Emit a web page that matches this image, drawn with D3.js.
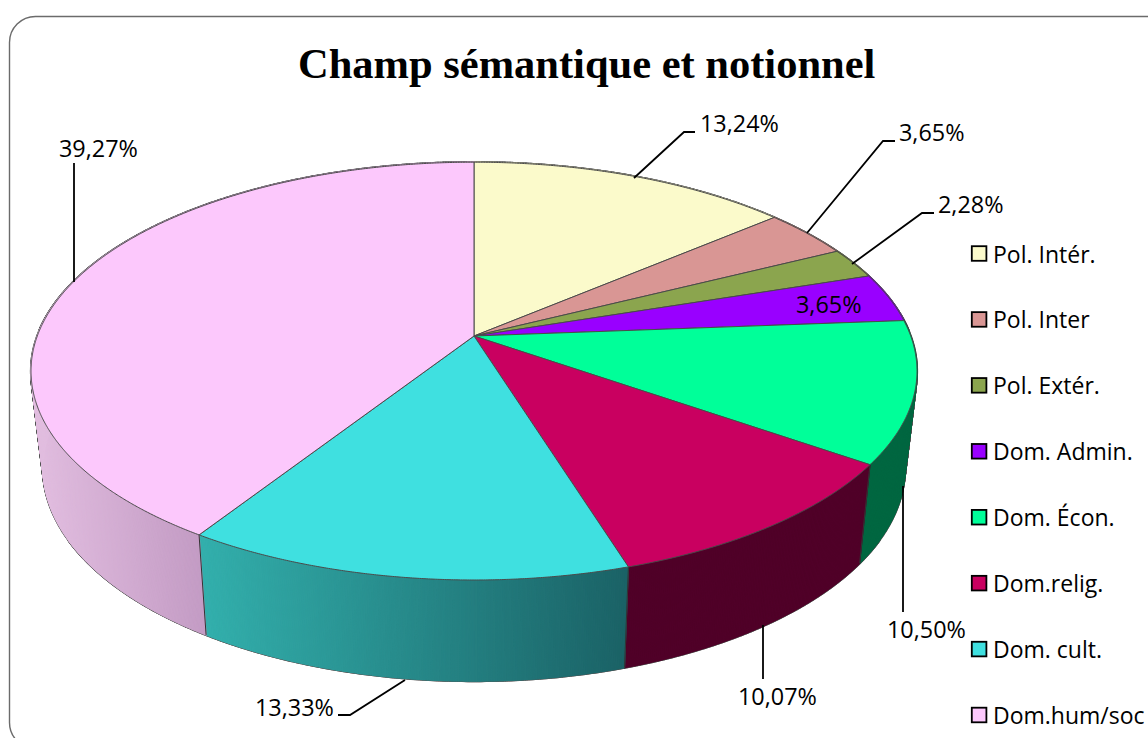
<!DOCTYPE html>
<html><head><meta charset="utf-8">
<script src="https://cdn.jsdelivr.net/npm/d3@7/dist/d3.min.js"></script>
<style>html,body{margin:0;padding:0;background:#fff;overflow:hidden}svg{display:block}</style>
</head><body><svg id="c" width="1148" height="738"></svg>
<script>
const titleText = "Champ sémantique et notionnel";
const categories = ["Pol. Intér.","Pol. Inter","Pol. Extér.","Dom. Admin.","Dom. Écon.","Dom.relig.","Dom. cult.","Dom.hum/soc"];
const values = [13.24,3.65,2.28,3.65,10.50,10.07,13.33,39.27];
const labels = ["13,24%","3,65%","2,28%","3,65%","10,50%","10,07%","13,33%","39,27%"];
const topColors = ["#FBFACB","#D99694","#8BA54E","#9900FF","#00FF99","#C90060","#3FE0E0","#FCC8FC"];
const sideFrom = ["#B9B896","#A06E6D","#67793A","#7100BC","#006741","#500028","#33B0AD","#E2BEE0"];
const sideTo   = ["#B9B896","#A06E6D","#67793A","#7100BC","#006741","#500028","#1B6266","#C39BC4"];
const sideSpan = [[0,1],[0,1],[0,1],[0,1],[0,1],[0,1],[200,628],[33,206]];

// label layout: text start / baseline, leader polyline
const labelPos = [[700,132],[899,141],[938,213],[796,313],[887,638],[738,705],[255,716],[59,157]];
const leaders = [
  [[634,178],[684,132],[695,132]],
  [[807,233],[883,141],[895,141]],
  [[852,264],[922,213],[934,213]],
  null,
  [[903,486],[903,612]],
  [[763,625],[763,679]],
  [[405,680],[350,715],[338,715]],
  [[74,282],[74,163]]
];

const svg = d3.select("#c");
const TOP = {a:436.7,b:203,k:0.168,cx:474,cy:336};
const BOT = {a:424.7,b:206.9,k:0.17,cx:474,cy:431.8};
const proj = (p,t)=>{const u=Math.sin(t),v=-Math.cos(t),d=1-p.k*v;return [p.cx+p.a*u/d,p.cy+p.b*v/d];};
const step = Math.PI/720;
const arcs = d3.pie().sort(null).value(d=>d)(values);
const line = d3.line();

svg.append("rect").attr("x",9.5).attr("y",16.5).attr("width",1300).attr("height",732).attr("rx",26)
  .attr("fill","#fff").attr("stroke","#6b6b6b").attr("stroke-width",1.4);

svg.append("text").attr("x",298).attr("y",78).attr("font-family","'Liberation Serif'")
  .attr("font-weight","bold").attr("font-size",42.5).attr("fill","#000").text(titleText);

// side strips
const strips = [];
arcs.forEach((a,i)=>{
  const shade = d3.scaleLinear().domain(sideSpan[i]).range([sideFrom[i],sideTo[i]]).clamp(true);
  const angs = d3.range(a.startAngle,a.endAngle,step).concat(a.endAngle);
  d3.pairs(angs).forEach(([t0,t1])=>{
    const q=[proj(TOP,t0),proj(TOP,t1),proj(BOT,t1),proj(BOT,t0)];
    strips.push({d:line(q)+"Z",c:shade((q[0][0]+q[1][0]+q[2][0]+q[3][0])/4)});
  });
});
const gs = svg.append("g");
gs.selectAll("path.o").data(strips).join("path").attr("class","o").attr("d",d=>d.d)
  .attr("fill","#555").attr("stroke","#555").attr("stroke-width",2.2);
gs.selectAll("path.f").data(strips).join("path").attr("class","f").attr("d",d=>d.d)
  .attr("fill",d=>d.c).attr("stroke",d=>d.c).attr("stroke-width",1.2);
gs.selectAll("line").data(arcs).join("line")
  .attr("x1",d=>proj(TOP,d.startAngle)[0]).attr("y1",d=>proj(TOP,d.startAngle)[1])
  .attr("x2",d=>proj(BOT,d.startAngle)[0]).attr("y2",d=>proj(BOT,d.startAngle)[1])
  .attr("stroke","#333").attr("stroke-width",1);

// top faces
svg.append("g").selectAll("path").data(arcs).join("path")
  .attr("d",a=>{
    const angs=d3.range(a.startAngle,a.endAngle,step).concat(a.endAngle);
    return line([[TOP.cx,TOP.cy],...angs.map(t=>proj(TOP,t))])+"Z";
  })
  .attr("fill",(d,i)=>topColors[i]).attr("stroke","#4a4a4a").attr("stroke-width",1).attr("stroke-linejoin","round");

// leaders
svg.append("g").selectAll("path").data(leaders.filter(Boolean)).join("path")
  .attr("d",d=>line(d)).attr("fill","none").attr("stroke","#000").attr("stroke-width",1.8);

const fontFam = "'Open Sans', sans-serif";
svg.append("g").selectAll("text").data(labels).join("text")
  .attr("x",(d,i)=>labelPos[i][0]).attr("y",(d,i)=>labelPos[i][1]-0.5)
  .attr("font-family",fontFam).attr("font-size",23.4).attr("fill","#000").text(d=>d);

// legend
const legendY = d3.scalePoint().domain(categories).range([253.5,715]);
const lg = svg.append("g").selectAll("g").data(categories).join("g")
  .attr("transform",d=>`translate(0,${legendY(d)})`);
lg.append("rect").attr("x",971.8).attr("y",-7.3).attr("width",14.6).attr("height",14.6)
  .attr("fill",(d,i)=>topColors[i]).attr("stroke","#000").attr("stroke-width",1.8);
lg.append("text").attr("x",993).attr("y",9).attr("font-family",fontFam).attr("font-size",23).attr("fill","#000").text(d=>d);
</script></body></html>
